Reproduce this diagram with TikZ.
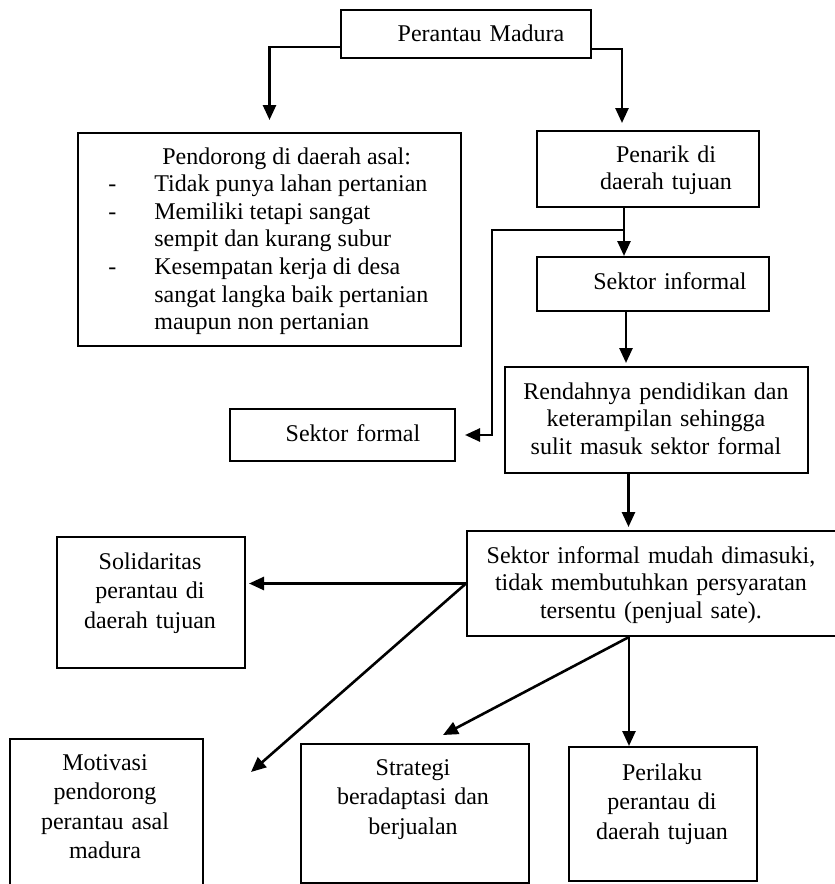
\documentclass[tikz,border=0pt]{standalone}
\usepackage{fontspec}
\setmainfont{Liberation Serif}
\usetikzlibrary{arrows.meta}

\begin{document}
\begin{tikzpicture}[x=0.5pt,y=-0.5pt,
  font=\fontsize{12}{13.8}\selectfont,
  kotak/.style={draw,line width=1pt,inner sep=0pt,anchor=north west},
  teks/.style={align=center,anchor=base,inner sep=0pt},
  panah/.style={->,line width=1.3pt},
  >={Triangle[length=7.5pt,width=6.5pt]}]
\useasboundingbox (0,0) rectangle (835,884);
\clip (0,0) rectangle (835,884);

% kotak
\node [kotak,minimum width=125pt,minimum height=24pt] (madura) at (340,9) {};
\node [kotak,minimum width=191.5pt,minimum height=106.5pt] (pendorong) at (77,132) {};
\node [kotak,minimum width=111pt,minimum height=38pt] (penarik) at (536,130) {};
\node [kotak,minimum width=116pt,minimum height=27pt] (informal) at (536,256) {};
\node [kotak,minimum width=112.5pt,minimum height=26pt] (formal) at (229,408) {};
\node [kotak,minimum width=151.5pt,minimum height=53pt] (rendah) at (504,366) {};
\node [kotak,minimum width=190pt,minimum height=52.5pt] (mudah) at (466,530) {};
\node [kotak,minimum width=94pt,minimum height=65.5pt] (solidaritas) at (56,536) {};
\node [kotak,minimum width=96.5pt,minimum height=80pt] (motivasi) at (9,738) {};
\node [kotak,minimum width=114pt,minimum height=69.5pt] (strategi) at (300,743) {};
\node [kotak,minimum width=94pt,minimum height=67pt] (perilaku) at (568,746) {};

% teks
\node [teks,text width=110pt] (madura-t) at (481,41) {Perantau Madura};
\node [anchor=base west,inner sep=0pt] (pendorong-t) at (108,164) {\begin{tabular}[t]{@{}p{23pt}@{}l@{}}
\multicolumn{2}{@{}l@{}}{\hspace{27pt}Pendorong di daerah asal:}\\
- & Tidak punya lahan pertanian\\
- & Memiliki tetapi sangat\\
  & sempit dan kurang subur\\
- & Kesempatan kerja di desa\\
  & sangat langka baik pertanian\\
  & maupun non pertanian
\end{tabular}};
\node [teks,text width=100pt] (penarik-t) at (666,162) {Penarik di\\daerah tujuan};
\node [teks,text width=100pt] (informal-t) at (670,289) {Sektor informal};
\node [teks,text width=100pt] (formal-t) at (353,441) {Sektor formal};
\node [teks,text width=150pt] (rendah-t) at (656,399) {Rendahnya pendidikan dan\\keterampilan sehingga\\sulit masuk sektor formal};
\node [teks,text width=180pt] (mudah-t) at (651,563) {Sektor informal mudah dimasuki,\\tidak membutuhkan persyaratan\\tersentu (penjual sate).};
\node [teks,text width=90pt] (solidaritas-t) at (150,569) {Solidaritas\\[1pt]perantau di\\[1pt]daerah tujuan};
\node [teks,text width=90pt] (motivasi-t) at (105,770) {Motivasi\\[1pt]pendorong\\[1pt]perantau asal\\[1pt]madura};
\node [teks,text width=110pt] (strategi-t) at (413,775) {Strategi\\[1pt]beradaptasi dan\\[1pt]berjualan};
\node [teks,text width=90pt] (perilaku-t) at (662,780) {Perilaku\\[1pt]perantau di\\[1pt]daerah tujuan};

% panah
\draw [panah,shorten >=6pt] ([yshift=-6.5pt]madura.west) -| (pendorong);
\draw [panah] ([yshift=-7.5pt]madura.east) -| ([xshift=-13pt,yshift=3.5pt]penarik.north);
\draw [panah] ([xshift=-12pt]penarik.south) -- ([xshift=-12pt]penarik.south |- informal.north);
\coordinate (cabang) at ([xshift=-12pt,yshift=-11pt]penarik.south);
\draw [panah,shorten >=4.5pt] (cabang) -- ++(-66pt,0pt) |- (formal.east);
\draw [panah,shorten >=1.5pt] ([xshift=-13.5pt]informal.south) -- ([xshift=-13.5pt]informal.south |- rendah.north);
\draw [panah,shorten >=1.5pt] ([xshift=-14pt]rendah.south) -- ([xshift=-14pt]rendah.south |- mudah.north);
\draw [panah,shorten >=1.5pt] (mudah.west) -- (mudah.west -| solidaritas.east);
\draw [panah] (mudah.west) -- ([xshift=23.5pt,yshift=-17pt]motivasi.north east);
\coordinate (kaki) at ([xshift=-14pt]mudah.south);
\draw [panah] (kaki) -- ([xshift=14pt,yshift=4pt]strategi.north);
\draw [panah] (kaki) -- (kaki |- perilaku.north);
\end{tikzpicture}
\end{document}
